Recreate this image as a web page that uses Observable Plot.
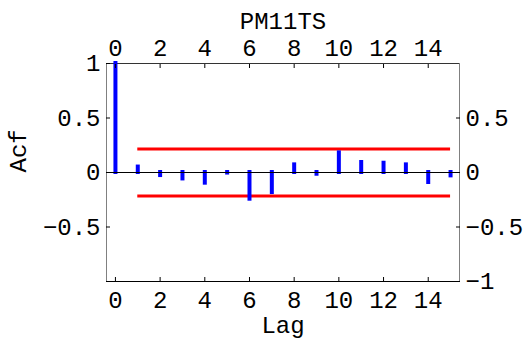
<!DOCTYPE html>
<html>
<head>
<meta charset="utf-8">
<script src="https://cdn.jsdelivr.net/npm/d3@7"></script>
<script src="https://cdn.jsdelivr.net/npm/@observablehq/plot@0.6"></script>
<style>
  html, body { margin: 0; padding: 0; background: #fff; }
</style>
</head>
<body>
<div id="chart"></div>
<script>
// ---- data ----
const lags = [0, 1, 2, 3, 4, 5, 6, 7, 8, 9, 10, 11, 12, 13, 14, 15];
const acfValues = [1, 0.05, -0.028, -0.059, -0.098, -0.005, -0.245, -0.184,
                   0.07, -0.016, 0.18, 0.092, 0.085, 0.07, -0.092, -0.031];
const confBand = [0.215, -0.215];
const bandLags = [1, 15];
const xTicks = [0, 2, 4, 6, 8, 10, 12, 14];
const yTicksLeft = [1, 0.5, 0, -0.5];
const yTicksRight = [0.5, 0, -0.5, -1];
const xDomain = [-0.4, 15.4];
const yDomain = [-1, 1];
const titleText = "PM11TS";
const xLabelText = "Lag";
const yLabelText = "Acf";

const data = lags.map((lag, i) => ({lag, acf: acfValues[i]}));
const font = "Liberation Mono";
const fmt = d => (d < 0 ? "\u2212" : "") + String(Math.abs(d));

const chart = Plot.plot({
  width: 529,
  height: 343,
  marginTop: 63,
  marginBottom: 62,
  marginLeft: 106,
  marginRight: 70,
  style: {fontFamily: font, fontSize: "24px", background: "#fff", color: "#000"},
  x: {domain: xDomain},
  y: {domain: yDomain},
  marks: [
    Plot.frame({stroke: "#808080"}),
    Plot.ruleY([yDomain[1]], {stroke: "#333"}),
    Plot.ruleY([yDomain[0]], {stroke: "#000"}),
    Plot.ruleY(confBand, {x1: bandLags[0], x2: bandLags[1], stroke: "#ff0000", strokeWidth: 3}),
    Plot.ruleX(data, {x: "lag", y1: 0, y2: "acf", stroke: "#0000ff", strokeWidth: 4, strokeLinecap: "square"}),
    Plot.ruleY([0], {stroke: "#000", strokeWidth: 1}),
    Plot.axisX(xTicks, {anchor: "top", tickSize: -4, tickPadding: 12, label: null, tickFormat: fmt, fontSize: 24}),
    Plot.axisX(xTicks, {anchor: "bottom", tickSize: -4, tickPadding: 13, label: null, tickFormat: fmt, fontSize: 24}),
    Plot.axisY(yTicksLeft, {anchor: "left", tickSize: -4, tickPadding: 10, label: null, tickFormat: fmt, fontSize: 24}),
    Plot.axisY(yTicksRight, {anchor: "right", tickSize: -4, tickPadding: 10, label: null, tickFormat: fmt, fontSize: 24}),
    Plot.text([titleText], {frameAnchor: "top", dy: -42, lineAnchor: "middle", fontSize: 24}),
    Plot.text([xLabelText], {frameAnchor: "bottom", dy: 44, lineAnchor: "middle", fontSize: 24}),
    Plot.text([yLabelText], {frameAnchor: "left", dx: -88, rotate: -90, lineAnchor: "middle", fontSize: 24})
  ]
});
document.getElementById("chart").appendChild(chart);
</script>
</body>
</html>
